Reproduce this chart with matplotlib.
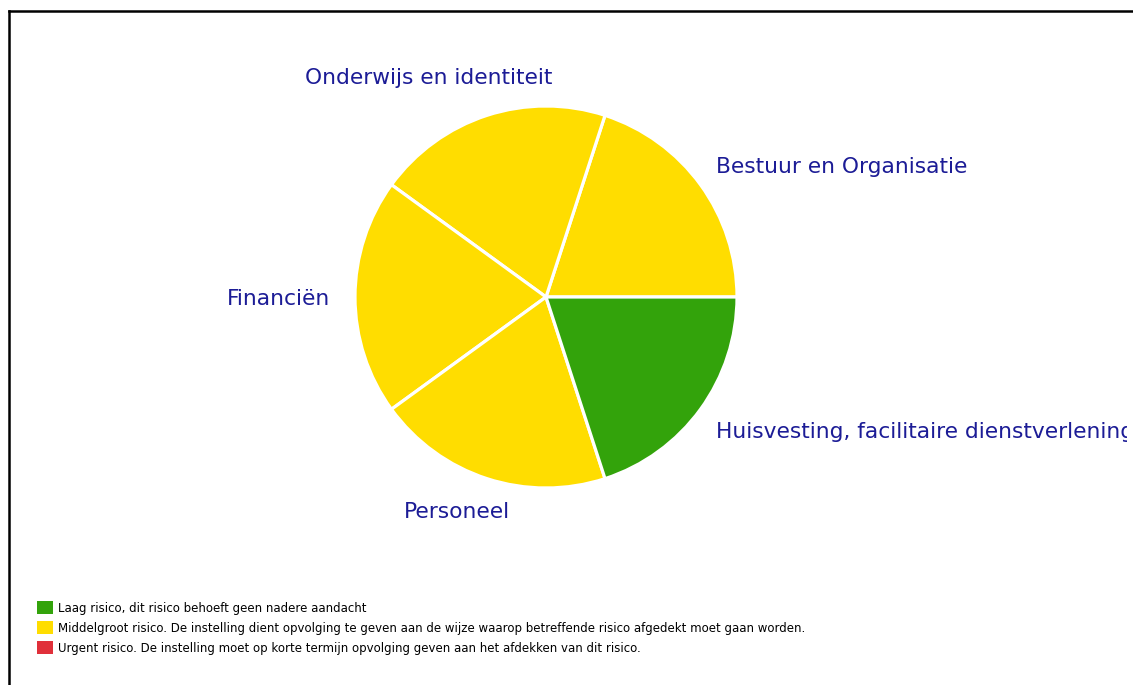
import numpy as np
import matplotlib.pyplot as plt
from matplotlib.patches import Patch, Rectangle
from matplotlib.lines import Line2D

categories = ['Bestuur en Organisatie', 'Onderwijs en identiteit', 'Financiën',
              'Personeel', 'Huisvesting, facilitaire dienstverlening']
values = [1, 1, 1, 1, 1]
slice_colors = ['#FFDD00', '#FFDD00', '#FFDD00', '#FFDD00', '#33A30B']

legend_labels = ['Laag risico, dit risico behoeft geen nadere aandacht',
                 'Middelgroot risico. De instelling dient opvolging te geven aan de wijze waarop betreffende risico afgedekt moet gaan worden.',
                 'Urgent risico. De instelling moet op korte termijn opvolging geven aan het afdekken van dit risico.']
legend_colors = ['#33A30B', '#FFDD00', '#E0303A']

# label anchors relative to pie centre (px) and alignment
label_layout = [(170, 130, 'left'), (-117, 219, 'center'), (-216, -2, 'right'),
                (-89, -215, 'center'), (170, -135, 'left')]

W, H = 1133, 685
fig = plt.figure(figsize=(W / 100, H / 100), dpi=100)
ax = fig.add_axes([0, 0, 1, 1])

cx, cy, r = 546, H - 297, 191
wedges, texts = ax.pie(values, colors=slice_colors, startangle=0, counterclock=True,
                       center=(cx, cy), radius=r, labels=categories,
                       wedgeprops=dict(edgecolor='white', linewidth=2.3),
                       textprops=dict(color='#1c1c96', fontsize=15.7))
ax.set_xlim(0, W)
ax.set_ylim(0, H)
ax.set_aspect('equal')
ax.axis('off')

clip = Rectangle((0, 0), 1127, H, transform=ax.transData)
for t, (dx, dy, ha) in zip(texts, label_layout):
    t.set_position((cx + dx, cy + dy))
    t.set_horizontalalignment(ha)
    t.set_verticalalignment('center')
    t.set_clip_on(True)
    t.set_clip_path(clip)

handles = [Patch(facecolor=c, edgecolor='none') for c in legend_colors]
fig.legend(handles, legend_labels, loc='upper left', bbox_to_anchor=(37 / W, 1 - 601 / H),
           frameon=False, handlelength=1.35, handleheight=1.35,
           handletextpad=0.45, labelspacing=0.55, borderpad=0, borderaxespad=0,
           prop={'family': ['Liberation Sans Narrow', 'DejaVu Sans Condensed', 'DejaVu Sans'], 'size': 8.5})

# frame lines (top and left)
fig.add_artist(Line2D([9 / W, 1], [1 - 11 / H, 1 - 11 / H], color='black', lw=1.8))
fig.add_artist(Line2D([9 / W, 9 / W], [0, 1 - 11 / H], color='black', lw=1.8))

fig.savefig('out.png', dpi=100)
